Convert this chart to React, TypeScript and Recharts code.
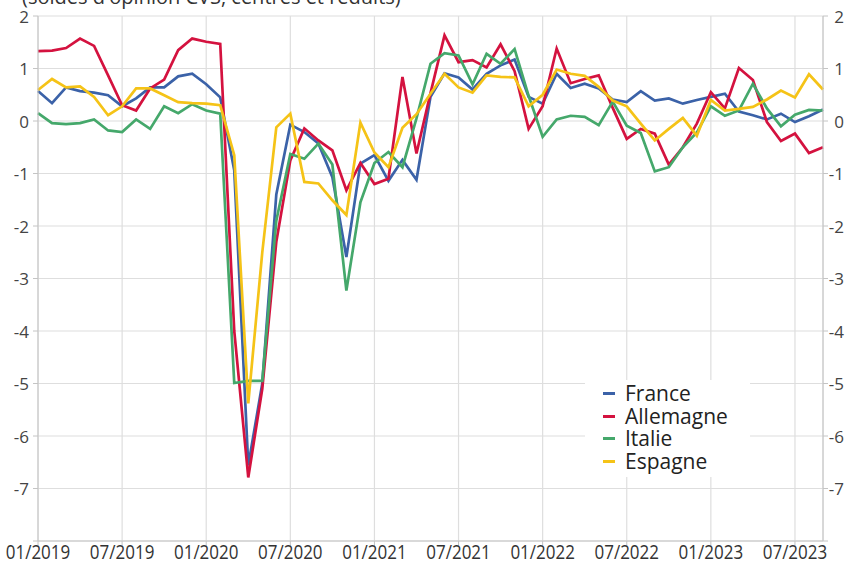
import React from 'react';
import { LineChart, Line, XAxis, YAxis, CartesianGrid, Legend } from 'recharts';

const months = [
  '01/2019','02/2019','03/2019','04/2019','05/2019','06/2019','07/2019','08/2019','09/2019','10/2019','11/2019','12/2019',
  '01/2020','02/2020','03/2020','04/2020','05/2020','06/2020','07/2020','08/2020','09/2020','10/2020','11/2020','12/2020',
  '01/2021','02/2021','03/2021','04/2021','05/2021','06/2021','07/2021','08/2021','09/2021','10/2021','11/2021','12/2021',
  '01/2022','02/2022','03/2022','04/2022','05/2022','06/2022','07/2022','08/2022','09/2022','10/2022','11/2022','12/2022',
  '01/2023','02/2023','03/2023','04/2023','05/2023','06/2023','07/2023','08/2023','09/2023',
];

const tickLabels = ['01/2019','07/2019','01/2020','07/2020','01/2021','07/2021','01/2022','07/2022','01/2023','07/2023'];
const yTicks = [-8, -7, -6, -5, -4, -3, -2, -1, 0, 1, 2];

const france = [
  0.57, 0.34, 0.64, 0.57, 0.54, 0.49, 0.28, 0.43, 0.64, 0.64, 0.85, 0.9,
  0.7, 0.45, -0.94, -6.56, -5.0, -1.4, -0.07, -0.21, -0.43, -1.07, -2.59, -0.81,
  -0.65, -1.14, -0.74, -1.12, 0.46, 0.91, 0.83, 0.6, 0.9, 1.06, 1.17, 0.46,
  0.33, 0.9, 0.63, 0.71, 0.62, 0.41, 0.36, 0.57, 0.39, 0.43, 0.33, 0.4,
  0.46, 0.52, 0.18, 0.11, 0.03, 0.14, -0.02, 0.09, 0.22,
];

const allemagne = [
  1.33, 1.34, 1.39, 1.57, 1.43, 0.87, 0.3, 0.2, 0.62, 0.79, 1.35, 1.57,
  1.51, 1.47, -4.0, -6.79, -5.1, -2.3, -0.75, -0.14, -0.37, -0.56, -1.32, -0.8,
  -1.2, -1.1, 0.84, -0.62, 0.53, 1.63, 1.12, 1.16, 1.02, 1.46, 0.95, -0.15,
  0.28, 1.38, 0.72, 0.8, 0.87, 0.25, -0.34, -0.15, -0.24, -0.83, -0.5, -0.05,
  0.55, 0.24, 1.01, 0.78, -0.02, -0.38, -0.24, -0.61, -0.5,
];

const italie = [
  0.15, -0.04, -0.06, -0.04, 0.03, -0.18, -0.21, 0.03, -0.15, 0.28, 0.15, 0.32,
  0.2, 0.14, -4.99, -4.95, -4.95, -1.9, -0.63, -0.72, -0.43, -0.83, -3.23, -1.55,
  -0.8, -0.59, -0.88, 0.05, 1.09, 1.29, 1.25, 0.7, 1.28, 1.09, 1.37, 0.48,
  -0.3, 0.03, 0.1, 0.08, -0.08, 0.37, -0.09, -0.23, -0.96, -0.88, -0.5, -0.22,
  0.28, 0.1, 0.2, 0.71, 0.24, -0.1, 0.12, 0.21, 0.2,
];

const espagne = [
  0.59, 0.8, 0.64, 0.66, 0.46, 0.11, 0.28, 0.62, 0.62, 0.49, 0.36, 0.34,
  0.33, 0.3, -0.65, -5.38, -2.5, -0.12, 0.14, -1.16, -1.19, -1.51, -1.79, -0.03,
  -0.6, -0.88, -0.13, 0.13, 0.52, 0.9, 0.64, 0.54, 0.87, 0.84, 0.83, 0.28,
  0.5, 0.98, 0.9, 0.86, 0.65, 0.39, 0.28, -0.05, -0.37, -0.15, 0.06, -0.28,
  0.4, 0.2, 0.23, 0.27, 0.41, 0.58, 0.45, 0.89, 0.6,
];

const seriesNames = ['France', 'Allemagne', 'Italie', 'Espagne'];
const seriesColors = ['#3b62a8', '#d4123f', '#45a86b', '#f5c317'];
const seriesValues = [france, allemagne, italie, espagne];

const data = months.map((m, i) => {
  const row: Record<string, number | string> = { i, m };
  seriesNames.forEach((n, k) => {
    row[n] = seriesValues[k][i];
  });
  return row;
});

const tickIdx = tickLabels.map((l) => months.indexOf(l));
const FONT = '"Open Sans", sans-serif';

const RightTick = (props: any) => {
  const { y, payload } = props;
  if (payload.value === -8) return null;
  return (
    <text x={844} y={y} textAnchor="end" dominantBaseline="central" fontSize={17} fill="#444" fontFamily={FONT}>
      {String(payload.value)}
    </text>
  );
};

const LeftTick = (props: any) => {
  const { y, payload } = props;
  if (payload.value === -8) return null;
  return (
    <text x={29} y={y} textAnchor="end" dominantBaseline="central" fontSize={17} fill="#444" fontFamily={FONT}>
      {String(payload.value)}
    </text>
  );
};

const BottomTick = (props: any) => {
  const { x, payload } = props;
  return (
    <text
      x={0}
      y={0}
      transform={`translate(${x},558.5) scale(1,1.2)`}
      textAnchor="middle"
      fontSize={17}
      fill="#333"
      fontFamily={FONT}
    >
      {months[payload.value]}
    </text>
  );
};

const renderLegend = () => (
  <div
    style={{
      background: '#fff',
      width: 165,
      padding: '2px 0 4px 18px',
      fontFamily: FONT,
      fontSize: 21,
      lineHeight: '22.7px',
      color: '#222',
      boxSizing: 'border-box',
    }}
  >
    {seriesNames.map((n, k) => (
      <div key={n} style={{ display: 'flex', alignItems: 'center', whiteSpace: 'nowrap', height: 22.7 }}>
        <span style={{ display: 'inline-block', width: 12, height: 3, background: seriesColors[k], marginRight: 10 }} />
        <span>{n}</span>
      </div>
    ))}
  </div>
);

export default function App() {
  return (
    <div style={{ position: 'absolute', left: 0, top: 0, width: 846, height: 565, background: '#fff', overflow: 'hidden' }}>
      <svg width={846} height={20} style={{ position: 'absolute', left: 0, top: 0 }}>
        <text x={22} y={4} fontSize={20} fill="#333" fontFamily={FONT}>
          (soldes d'opinion CVS, centrés et réduits)
        </text>
      </svg>
      <LineChart width={846} height={565} data={data} margin={{ top: 16, right: 0, bottom: 0, left: 0 }}>
        <CartesianGrid stroke="#dedede" strokeWidth={1.2} />
        <XAxis
          dataKey="i"
          type="number"
          domain={[0, 56]}
          ticks={tickIdx}
          interval={0}
          height={24}
          tick={<BottomTick />}
          tickSize={5}
          stroke="#c4c4c4"
          axisLine={{ stroke: '#c4c4c4' }}
          allowDecimals={false}
        />
        <YAxis
          domain={[-8, 2]}
          ticks={yTicks}
          interval={0}
          width={38}
          tick={<LeftTick />}
          tickSize={5}
          stroke="#c4c4c4"
          allowDataOverflow
        />
        <YAxis
          yAxisId="right"
          orientation="right"
          domain={[-8, 2]}
          ticks={yTicks}
          interval={0}
          width={23}
          tick={<RightTick />}
          tickSize={5}
          stroke="#c4c4c4"
          allowDataOverflow
        />
        <Legend
          layout="vertical"
          align="center"
          verticalAlign="middle"
          wrapperStyle={{ left: 585, top: 380, width: 165 }}
          content={renderLegend}
        />
        {seriesNames.map((n, k) => (
          <Line
            key={n}
            type="linear"
            dataKey={n}
            stroke={seriesColors[k]}
            strokeWidth={2.7}
            dot={false}
            activeDot={false}
            isAnimationActive={false}
          />
        ))}
      </LineChart>
    </div>
  );
}
